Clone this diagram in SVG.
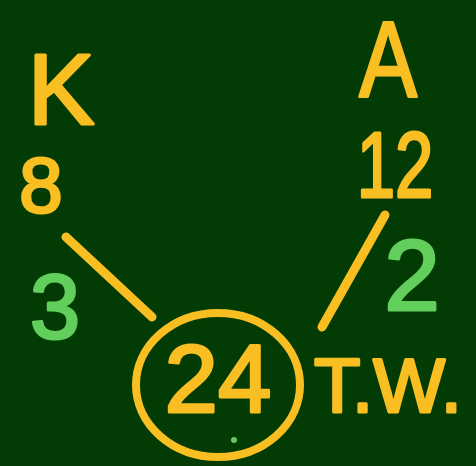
<svg xmlns="http://www.w3.org/2000/svg" width="476" height="466" viewBox="0 0 476 466">
<style>
.y{fill:#f9bf22;stroke:#f9bf22;stroke-width:3;stroke-linejoin:round;font-family:"Liberation Sans",Arial,sans-serif;}
.g{fill:#62cf5c;stroke:#62cf5c;stroke-width:3;stroke-linejoin:round;font-family:"Liberation Sans",Arial,sans-serif;}
.ln{stroke:#f9bf22;stroke-width:9;stroke-linecap:round;fill:none;}
</style>
<rect width="476" height="466" fill="#023b03"/>
<g id="K"><text class="y" x="61" y="124" font-size="100" text-anchor="middle">K</text></g>
<g id="K-value"><text class="y" x="41" y="212" font-size="78" text-anchor="middle">8</text></g>
<g id="K-factor"><text class="g" x="55" y="338" font-size="90" text-anchor="middle">3</text></g>
<g id="A"><text class="y" transform="translate(388 97) scale(0.8 1)" font-size="108" text-anchor="middle">A</text></g>
<g id="A-value"><text class="y" transform="translate(395 197) scale(0.75 1)" font-size="92" text-anchor="middle">12</text></g>
<g id="A-factor"><text class="g" x="412" y="310" font-size="100" text-anchor="middle">2</text></g>
<g id="total">
<ellipse cx="218" cy="385" rx="82" ry="72" fill="none" stroke="#f9bf22" stroke-width="8"/>
<text class="y" x="218" y="412" font-size="96" text-anchor="middle">24</text>
<circle cx="234" cy="440" r="3" fill="#62cf5c"/>
</g>
<g id="TW"><text class="y" x="388" y="412" font-size="76" text-anchor="middle">T.W.</text></g>
<g id="connectors">
<line class="ln" x1="66" y1="237" x2="152" y2="317"/>
<line class="ln" x1="385" y1="215" x2="322" y2="327"/>
</g>
</svg>
